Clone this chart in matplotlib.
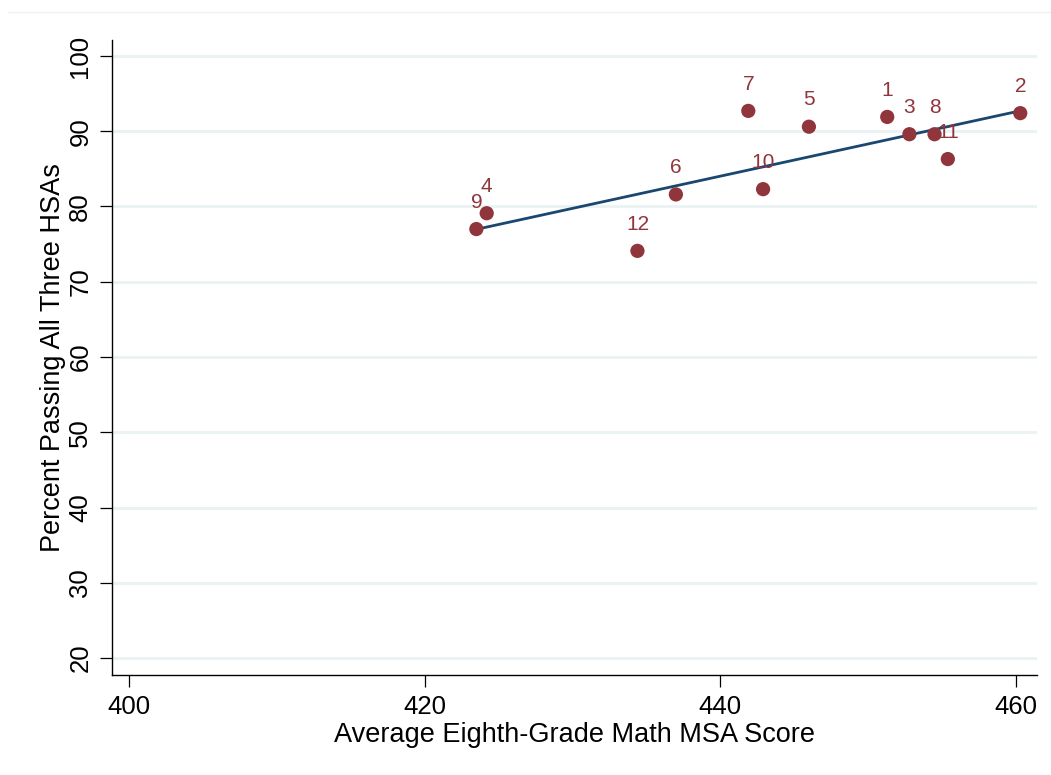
import numpy as np
import matplotlib.pyplot as plt
from matplotlib.lines import Line2D

plt.rcParams['font.family'] = ['Liberation Sans', 'DejaVu Sans']

# School ids with average 8th-grade math MSA score and HSA pass rate
school_ids = ['1', '2', '3', '4', '5', '6', '7', '8', '9', '10', '11', '12']
msa_score = [451.3, 460.3, 452.8, 424.2, 446.0, 437.0, 441.9, 454.5, 423.5, 442.9, 455.4, 434.4]
pct_passing = [91.9, 92.4, 89.6, 79.1, 90.6, 81.6, 92.7, 89.6, 77.0, 82.3, 86.3, 74.1]

x_ticks = [400, 420, 440, 460]
y_ticks = [20, 30, 40, 50, 60, 70, 80, 90, 100]

marker_color = '#90353B'
line_color = '#1A476F'
grid_color = '#EAF2F3'

x = np.array(msa_score)
y = np.array(pct_passing)

fig = plt.figure(figsize=(10.51, 7.75), dpi=100)
ax = fig.add_axes([0.107, 0.129, 0.8795, 0.819])

# linear fit over the observed range
slope, intercept = np.polyfit(x, y, 1)
xs = np.array([x.min(), x.max()])
ax.plot(xs, slope * xs + intercept, color=line_color, lw=2.0, zorder=3)

ax.scatter(x, y, s=105, color=marker_color, edgecolors='none', zorder=4)
for sid, xi, yi in zip(school_ids, x, y):
    ax.annotate(sid, (xi, yi), xytext=(0, 12.5), textcoords='offset points',
                ha='center', va='bottom', fontsize=15, color=marker_color, zorder=5)

ax.set_xlim(398.88, 461.42)
ax.set_ylim(17.74, 102.08)
ax.set_xticks(x_ticks)
ax.set_yticks(y_ticks)
ax.set_yticklabels([str(t) for t in y_ticks], rotation=90, va='center')

for t in y_ticks:
    ax.axhline(t, color=grid_color, lw=2.0, zorder=1)

for side in ['top', 'right']:
    ax.spines[side].set_visible(False)
for side in ['left', 'bottom']:
    ax.spines[side].set_linewidth(1.0)
    ax.spines[side].set_color('black')

ax.tick_params(direction='out', length=8.5, width=0.9, labelsize=18.5, pad=6)

ax.set_xlabel('Average Eighth-Grade Math MSA Score', fontsize=19.5, labelpad=2)
ax.set_ylabel('Percent Passing All Three HSAs', fontsize=19.5, labelpad=1.5)

# faint outer frame line at the top of the graph region
fig.add_artist(Line2D([0.008, 1.0], [0.985, 0.985], transform=fig.transFigure,
                      color='#F0F0F0', lw=1.0))

fig.savefig('out.png', dpi=100, facecolor='white')
